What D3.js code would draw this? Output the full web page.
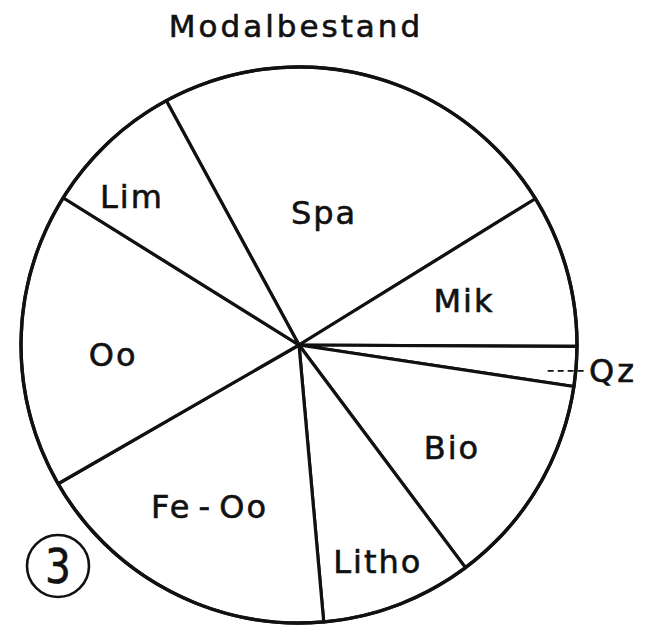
<!DOCTYPE html>
<html>
<head>
<meta charset="utf-8">
<script src="https://cdn.jsdelivr.net/npm/d3@7"></script>
<style>
  html, body { margin: 0; padding: 0; background: #fff; }
  svg { display: block; }
  text { font-family: "DejaVu Sans", sans-serif; fill: #111; stroke: #111; stroke-width: 0.6px; }
</style>
</head>
<body>
<svg id="chart" width="648" height="625"></svg>
<script>
// ---- data ----
const categories = ["Spa", "Mik", "Qz", "Bio", "Litho", "Fe - Oo", "Oo", "Lim"];
const values = [24.1, 8.9, 2.3, 12.4, 8.8, 18.1, 17.2, 8.2];
const title = "Modalbestand";
const sampleNumber = "3";

// ---- layout ----
const W = 648, H = 625;
const cx = 299, cy = 345, R = 278;
const startDeg = -28.5;
const labelPlacement = {
  "Spa":     { r: 135, shift: -4.2 },
  "Mik":     { r: 171, shift: 0.5 },
  "Bio":     { r: 184, shift: 2.9 },
  "Litho":   { r: 230, shift: 0.9 },
  "Fe - Oo": { r: 184, shift: 1.6 },
  "Oo":      { r: 186, shift: -3.8 },
  "Lim":     { r: 224, shift: -5.0 }
};
const outsideLabel = "Qz";

const svg = d3.select("#chart");

svg.append("text")
  .attr("x", 296).attr("y", 37)
  .attr("text-anchor", "middle")
  .style("font-size", "31px")
  .style("letter-spacing", "3px")
  .text(title);

const data = categories.map((c, i) => ({ name: c, value: values[i] }));
const start = startDeg * Math.PI / 180;
const pie = d3.pie().sort(null).value(d => d.value)
  .startAngle(start).endAngle(start + 2 * Math.PI);
const arcs = pie(data);

const arc = d3.arc().innerRadius(0).outerRadius(R);

const g = svg.append("g").attr("transform", `translate(${cx},${cy})`);

g.selectAll("path.slice")
  .data(arcs)
  .join("path")
  .attr("class", "slice")
  .attr("d", arc)
  .attr("fill", "#fff")
  .attr("stroke", "#111")
  .attr("stroke-width", 3.2)
  .attr("stroke-linejoin", "round");

g.append("circle").attr("r", R).attr("fill", "none")
  .attr("stroke", "#111").attr("stroke-width", 3.4);

function polar(r, a) { return [r * Math.sin(a), -r * Math.cos(a)]; }

arcs.forEach(a => {
  const name = a.data.name;
  const mid = (a.startAngle + a.endAngle) / 2;
  if (name === outsideLabel) {
    const [x0, y0] = polar(250, mid + 1.5 * Math.PI / 180);
    const x1 = R + 10;
    g.append("line")
      .attr("x1", x0).attr("y1", y0).attr("x2", x1).attr("y2", y0)
      .attr("stroke", "#111").attr("stroke-width", 1.8)
      .attr("stroke-dasharray", "6,4");
    g.append("text")
      .attr("x", x1 + 2).attr("y", y0 + 11)
      .style("font-size", "32px")
      .style("letter-spacing", "3px")
      .text(name);
  } else {
    const p = labelPlacement[name];
    const [x, y] = polar(p.r, mid + p.shift * Math.PI / 180);
    g.append("text")
      .attr("x", x).attr("y", y + 12)
      .attr("text-anchor", "middle")
      .style("font-size", "32px")
      .style("letter-spacing", "2px")
      .style("word-spacing", "-5px")
      .text(name);
  }
});

// sample number in a circle
const badge = svg.append("g").attr("transform", "translate(58,566)");
badge.append("circle").attr("r", 31).attr("fill", "none")
  .attr("stroke", "#111").attr("stroke-width", 2.6);
badge.append("text")
  .attr("x", 0).attr("y", 17)
  .attr("text-anchor", "middle")
  .attr("transform", "scale(0.85,1)")
  .style("font-size", "48px")
  .text(sampleNumber);
</script>
</body>
</html>
